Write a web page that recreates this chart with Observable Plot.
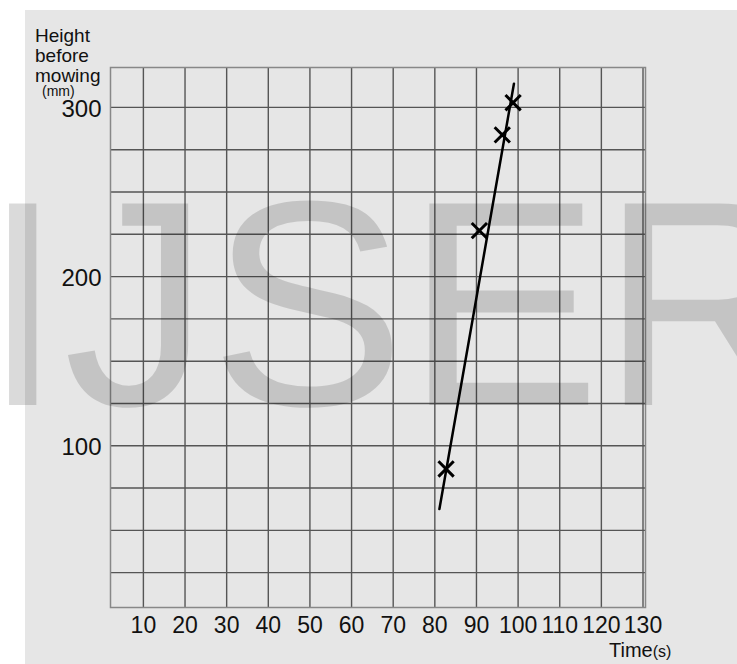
<!DOCTYPE html>
<html>
<head>
<meta charset="utf-8">
<script src="https://cdn.jsdelivr.net/npm/d3@7"></script>
<script src="https://cdn.jsdelivr.net/npm/@observablehq/plot@0.6"></script>
<style>
  html, body { margin: 0; padding: 0; background: #ffffff; }
  #wrap { position: relative; width: 737px; height: 664px; overflow: hidden; }
  #bg { position: absolute; left: 25px; top: 10px; right: 0; bottom: 0; background: #e6e6e6; }
  #chart { position: absolute; left: 0; top: 0; }
  #overlay { position: absolute; left: 0; top: 0; pointer-events: none; }
</style>
</head>
<body>
<div id="wrap">
  <div id="bg"></div>
  <div id="chart"></div>
  <svg id="overlay" width="737" height="664" font-family="Liberation Sans, Arial, sans-serif">
    <text x="35" y="42" font-size="19" fill="#111">Height</text>
    <text x="35" y="62" font-size="19" fill="#111">before</text>
    <text x="35" y="81.5" font-size="19" fill="#111">mowing</text>
    <text x="42" y="95.5" font-size="14" fill="#111">(mm)</text>
    <text x="609" y="656.5" font-size="20" fill="#111">Time<tspan font-size="16">(s)</tspan></text>
    <text x="-18" y="405" font-size="293" fill="#000" fill-opacity="0.145">IJSER</text>
  </svg>
</div>
<script>
// Grid / tick values
const xTicks = [10, 20, 30, 40, 50, 60, 70, 80, 90, 100, 110, 120, 130];
const yGrid = [25, 50, 75, 100, 125, 150, 175, 200, 225, 250, 275, 300];
const yTicks = [100, 200, 300];

// Measured points (time in s, height before mowing in mm)
const times = [82.7, 90.7, 96.2, 98.8];
const heights = [86.3, 227.2, 283.8, 302.8];

// Hand-drawn best-fit line endpoints
const fitTimes = [81.1, 99.0];
const fitHeights = [62.6, 314.0];

const points = times.map((t, i) => ({time: t, height: heights[i]}));
const fit = fitTimes.map((t, i) => ({time: t, height: fitHeights[i]}));

const chart = Plot.plot({
  width: 737,
  height: 664,
  marginLeft: 110,
  marginTop: 67,
  marginRight: 92,
  marginBottom: 57,
  style: {background: "transparent", fontFamily: "Liberation Sans, Arial, sans-serif", color: "#111"},
  x: {domain: [2.1, 130.6]},
  y: {domain: [4.4, 323.6]},
  marks: [
    Plot.ruleX(xTicks, {stroke: "#555", strokeWidth: 1.4}),
    Plot.ruleY(yGrid, {stroke: "#555", strokeWidth: 1.4}),
    Plot.frame({stroke: "#888", strokeWidth: 1.5}),
    Plot.axisX(xTicks, {tickSize: 0, tickPadding: 9, fontSize: 23, label: null}),
    Plot.axisY(yTicks, {tickSize: 0, tickPadding: 9, fontSize: 24, label: null, dy: 2}),
    Plot.line(fit, {x: "time", y: "height", stroke: "#000", strokeWidth: 2.5}),
    Plot.dot(points, {x: "time", y: "height", symbol: "times", r: 7, stroke: "#000", strokeWidth: 3})
  ]
});
document.getElementById("chart").appendChild(chart);
</script>
</body>
</html>
